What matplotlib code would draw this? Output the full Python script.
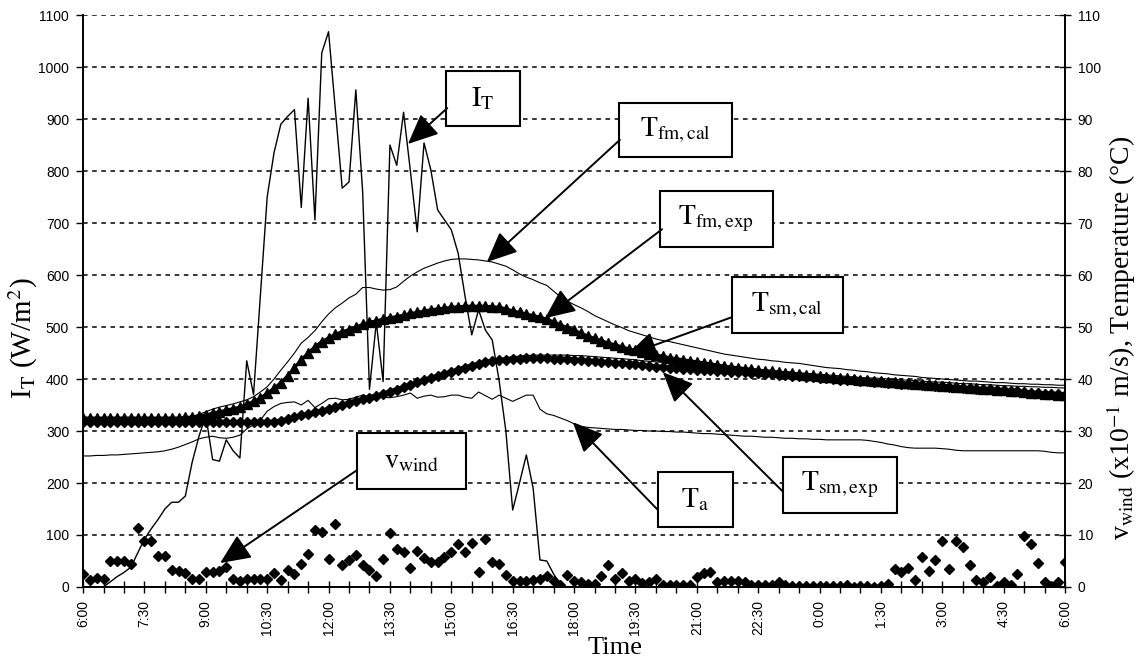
import numpy as np
import matplotlib
matplotlib.use("Agg")
import matplotlib.pyplot as plt
from matplotlib.patches import Rectangle

plt.rcParams['font.family'] = ['Liberation Sans', 'DejaVu Sans']
plt.rcParams['mathtext.fontset'] = 'stix'

# 10-minute samples from 6:00 to 6:00 next day (145 values), rows of 2 h
steps = np.arange(145)
hours = steps / 6.0

irradiance = [  # I_T, W/m2
    0, 0, 0, 0, 10, 20, 28, 38, 65, 92, 112, 130,
    150, 163, 163, 175, 240, 290, 330, 245, 242, 283, 262, 248,
    435, 370, 560, 750, 835, 890, 905, 918, 730, 940, 706, 1027,
    1068, 917, 767, 779, 956, 760, 380, 509, 395, 850, 811, 913,
    800, 683, 854, 802, 725, 706, 687, 642, 560, 485, 533, 494,
    475, 398, 300, 148, 200, 254, 190, 52, 50, 25, 5, 0,
] + [0] * 73

t_ambient = [
    25.2, 25.2, 25.3, 25.3, 25.4, 25.4, 25.5, 25.6, 25.7, 25.8, 25.9, 26.0,
    26.2, 26.5, 26.9, 27.4, 27.9, 28.5, 28.8, 29.0, 28.7, 28.6, 28.8, 29.2,
    30.4, 31.2, 32.1, 33.8, 34.7, 35.3, 35.5, 35.6, 35.0, 35.9, 34.5, 35.3,
    36.2, 36.3, 36.0, 36.1, 36.5, 36.9, 36.6, 36.3, 36.5, 36.4, 36.6, 36.9,
    37.3, 36.3, 36.7, 36.9, 36.5, 36.6, 36.9, 36.9, 36.5, 36.3, 37.5, 36.8,
    36.1, 36.9, 36.3, 35.7, 36.3, 36.9, 36.9, 34.2, 33.3, 33.0, 32.5, 32.0,
    31.4, 30.9, 30.7, 30.6, 30.5, 30.4, 30.3, 30.3, 30.2, 30.1, 30.1, 30.0,
    30.0, 29.9, 29.9, 29.8, 29.8, 29.7, 29.6, 29.5, 29.5, 29.4, 29.3, 29.2,
    29.1, 29.0, 29.0, 28.9, 28.8, 28.8, 28.7, 28.6, 28.6, 28.5, 28.5, 28.4,
    28.4, 28.3, 28.3, 28.3, 28.3, 28.3, 28.3, 28.2, 28.0, 27.8, 27.5, 27.3,
    27.0, 26.8, 26.7, 26.7, 26.7, 26.7, 26.6, 26.5, 26.3, 26.2, 26.2, 26.2,
    26.2, 26.2, 26.2, 26.2, 26.2, 26.2, 26.2, 26.2, 26.2, 26.1, 25.9, 25.8,
    25.8,
]

t_fm_cal = [
    31.9, 31.9, 31.9, 31.9, 31.9, 31.9, 31.9, 31.9, 31.9, 31.9, 32.0, 32.0,
    32.1, 32.2, 32.3, 32.5, 32.8, 33.2, 33.7, 34.2, 34.6, 34.9, 35.2, 35.6,
    36.0, 36.6, 37.5, 38.5, 40.0, 41.7, 43.3, 45.0, 46.9, 48.0, 49.3, 51.0,
    52.5, 53.7, 54.6, 55.6, 56.3, 57.6, 57.6, 57.3, 57.1, 57.2, 57.7, 58.8,
    59.8, 60.6, 61.3, 61.8, 62.3, 62.7, 63.0, 63.1, 63.1, 63.0, 62.9, 62.7,
    62.5, 62.1, 61.7, 61.0, 60.2, 59.6, 59.1, 58.5, 58.0, 56.9, 55.8, 55.0,
    54.3, 53.7, 53.0, 52.2, 51.6, 51.0, 50.4, 49.9, 49.3, 48.9, 48.5, 48.1,
    47.7, 47.4, 47.2, 46.9, 46.6, 46.3, 46.0, 45.7, 45.4, 45.1, 44.8, 44.6,
    44.4, 44.2, 44.0, 43.8, 43.7, 43.5, 43.4, 43.2, 43.1, 43.0, 42.8, 42.6,
    42.4, 42.2, 42.1, 42.0, 41.8, 41.7, 41.5, 41.4, 41.2, 41.1, 41.0, 40.8,
    40.7, 40.6, 40.5, 40.3, 40.2, 40.1, 40.0, 39.9, 39.8, 39.7, 39.6, 39.6,
    39.5, 39.4, 39.3, 39.3, 39.2, 39.1, 39.1, 39.0, 39.0, 38.9, 38.9, 38.8,
    38.8,
]

t_fm_exp = [
    32.5, 32.5, 32.5, 32.5, 32.5, 32.5, 32.5, 32.5, 32.5, 32.5, 32.5, 32.5,
    32.5, 32.5, 32.5, 32.6, 32.7, 32.9, 33.1, 33.4, 33.7, 34.0, 34.3, 34.6,
    35.1, 35.7, 36.3, 37.3, 38.2, 39.3, 40.6, 42.2, 43.7, 45.0, 46.2, 47.2,
    47.9, 48.6, 49.1, 49.5, 50.0, 50.5, 50.9, 51.2, 51.5, 51.8, 52.0, 52.3,
    52.6, 52.8, 53.1, 53.3, 53.5, 53.6, 53.8, 53.9, 54.0, 54.0, 54.0, 54.0,
    53.9, 53.8, 53.5, 53.1, 52.8, 52.5, 52.2, 51.9, 51.5, 51.0, 50.4, 49.9,
    49.4, 48.8, 48.3, 47.8, 47.4, 46.9, 46.6, 46.2, 45.8, 45.5, 45.2, 44.9,
    44.6, 44.4, 44.1, 43.9, 43.7, 43.5, 43.3, 43.1, 42.9, 42.7, 42.5, 42.3,
    42.2, 42.0, 41.9, 41.7, 41.6, 41.5, 41.3, 41.2, 41.1, 40.9, 40.8, 40.7,
    40.6, 40.4, 40.3, 40.2, 40.1, 40.0, 39.9, 39.8, 39.7, 39.6, 39.5, 39.4,
    39.3, 39.2, 39.1, 39.0, 38.9, 38.8, 38.7, 38.6, 38.5, 38.4, 38.3, 38.2,
    38.1, 38.0, 37.9, 37.8, 37.7, 37.6, 37.5, 37.4, 37.3, 37.2, 37.1, 37.0,
    36.9,
]

t_sm_exp = [
    31.7, 31.7, 31.7, 31.7, 31.7, 31.7, 31.7, 31.7, 31.7, 31.7, 31.7, 31.7,
    31.7, 31.7, 31.7, 31.7, 31.7, 31.7, 31.7, 31.7, 31.7, 31.7, 31.7, 31.7,
    31.7, 31.7, 31.7, 31.7, 31.8, 32.0, 32.3, 32.6, 33.0, 33.3, 33.6, 33.9,
    34.2, 34.6, 35.0, 35.4, 35.8, 36.1, 36.4, 36.7, 37.1, 37.5, 37.9, 38.4,
    38.9, 39.4, 39.8, 40.2, 40.6, 41.0, 41.4, 41.8, 42.2, 42.5, 42.9, 43.2,
    43.4, 43.6, 43.7, 43.8, 43.9, 44.0, 44.0, 44.0, 44.0, 43.9, 43.9, 43.8,
    43.7, 43.6, 43.5, 43.4, 43.3, 43.2, 43.1, 43.0, 42.9, 42.8, 42.6, 42.5,
    42.4, 42.3, 42.2, 42.1, 42.0, 41.9, 41.8, 41.8, 41.7, 41.6, 41.5, 41.4,
    41.3, 41.3, 41.2, 41.1, 41.0, 40.9, 40.8, 40.7, 40.6, 40.5, 40.4, 40.3,
    40.2, 40.1, 40.0, 39.9, 39.9, 39.8, 39.7, 39.6, 39.5, 39.4, 39.3, 39.2,
    39.1, 39.0, 39.0, 38.9, 38.8, 38.7, 38.6, 38.5, 38.4, 38.3, 38.2, 38.1,
    38.1, 38.0, 37.9, 37.8, 37.7, 37.6, 37.5, 37.4, 37.3, 37.2, 37.2, 37.1,
    37.0,
]

t_sm_cal = [
    31.9, 31.9, 31.9, 31.9, 31.9, 31.9, 31.9, 31.9, 31.9, 31.9, 31.9, 31.9,
    31.9, 31.9, 31.9, 31.9, 31.9, 31.9, 31.9, 31.9, 31.9, 31.9, 31.9, 31.9,
    31.9, 31.9, 31.9, 31.9, 32.0, 32.2, 32.5, 32.8, 33.2, 33.5, 33.9, 34.2,
    34.5, 34.9, 35.3, 35.7, 36.1, 36.4, 36.8, 37.1, 37.5, 37.9, 38.3, 38.8,
    39.2, 39.7, 40.1, 40.5, 40.9, 41.3, 41.7, 42.1, 42.5, 42.9, 43.2, 43.5,
    43.7, 43.9, 44.1, 44.3, 44.4, 44.5, 44.6, 44.6, 44.6, 44.6, 44.6, 44.6,
    44.5, 44.5, 44.4, 44.3, 44.2, 44.1, 44.0, 43.9, 43.8, 43.7, 43.5, 43.4,
    43.3, 43.2, 43.1, 43.0, 42.9, 42.8, 42.7, 42.6, 42.5, 42.4, 42.3, 42.2,
    42.1, 42.0, 41.9, 41.8, 41.7, 41.6, 41.5, 41.4, 41.3, 41.2, 41.1, 41.0,
    40.9, 40.8, 40.7, 40.6, 40.5, 40.4, 40.3, 40.2, 40.2, 40.1, 40.0, 39.9,
    39.8, 39.8, 39.7, 39.6, 39.5, 39.4, 39.4, 39.3, 39.2, 39.1, 39.1, 39.0,
    38.9, 38.9, 38.8, 38.7, 38.7, 38.6, 38.6, 38.5, 38.5, 38.4, 38.4, 38.3,
    38.3,
]

v_wind = [  # x10^-1 m/s
    2.5, 1.3, 1.7, 1.5, 5.0, 5.0, 5.0, 4.4, 11.4, 8.9, 8.9, 6.0,
    6.0, 3.3, 3.0, 2.7, 1.5, 1.5, 2.9, 2.9, 3.0, 3.9, 1.5, 1.2,
    1.5, 1.5, 1.5, 1.5, 2.7, 1.3, 3.3, 2.5, 4.4, 6.3, 11.0, 10.5,
    5.4, 12.1, 4.2, 5.2, 6.2, 4.2, 3.3, 2.1, 5.4, 10.4, 7.3, 6.7,
    3.7, 6.9, 5.6, 4.8, 4.8, 5.8, 6.7, 8.3, 6.7, 8.5, 2.9, 9.2,
    4.8, 4.4, 2.3, 1.2, 1.2, 1.2, 1.3, 1.5, 2.1, 1.2, 0.4, 2.3,
    1.2, 1.0, 0.6, 0.6, 2.1, 4.2, 1.5, 2.7, 1.2, 1.5, 0.8, 1.0,
    1.5, 0.4, 0.3, 0.4, 0.3, 0.4, 1.9, 2.7, 2.9, 0.9, 1.1, 1.1,
    1.1, 1.0, 0.4, 0.4, 0.3, 0.4, 1.0, 0.4, 0.2, 0.2, 0.2, 0.2,
    0.2, 0.2, 0.1, 0.2, 0.3, 0.0, 0.2, 0.2, 0.0, 0.2, 0.6, 3.5,
    2.9, 3.6, 1.3, 5.8, 3.1, 5.2, 8.8, 3.5, 8.8, 7.7, 4.2, 1.3,
    1.0, 1.9, 0.2, 1.0, 0.3, 2.5, 9.8, 8.3, 4.6, 1.0, 0.1, 1.0,
    4.8,
]

tick_labels = ['6:00', '7:30', '9:00', '10:30', '12:00', '13:30', '15:00',
               '16:30', '18:00', '19:30', '21:00', '22:30', '0:00', '1:30',
               '3:00', '4:30', '6:00']

fig = plt.figure(figsize=(11.44, 6.65), dpi=100)
ax1 = fig.add_axes([0.0726, 0.1173, 0.8584, 0.8601])
ax2 = ax1.twinx()

ax1.set_xlim(0, 24)
ax1.set_ylim(0, 1100)
ax2.set_ylim(0, 110)

ax1.set_yticks(range(0, 1101, 100))
ax2.set_yticks(range(0, 111, 10))
ax1.set_xticks(np.arange(0, 24.01, 1.5))
ax1.set_xticklabels(tick_labels, rotation=90)
ax1.set_xticks(np.arange(0, 24.01, 0.5), minor=True)

ax1.grid(axis='y', color='black', linestyle=(0, (3, 3)), linewidth=1.1)
ax1.set_axisbelow(True)

for ax in (ax1, ax2):
    ax.spines['top'].set_visible(False)
    for s in ('left', 'right', 'bottom'):
        ax.spines[s].set_linewidth(1.2)

ax1.tick_params(axis='x', which='both', direction='inout', length=9,
                width=1, labelsize=10, pad=5)
ax1.tick_params(axis='y', direction='out', length=5, width=1,
                labelsize=10, pad=5)
ax2.tick_params(axis='y', direction='inout', length=8, width=1,
                labelsize=10, pad=5)

# series
ax1.plot(hours, irradiance, color='black', lw=1.0)
ax2.plot(hours, t_ambient, color='black', lw=0.8)
ax2.plot(hours, t_fm_cal, color='black', lw=0.8)
ax2.plot(hours, t_fm_exp, color='black', lw=2.2, marker='^', ms=7)
ax2.plot(hours, t_sm_exp, color='black', lw=3.0, marker='D', ms=5)
ax2.plot(hours, t_sm_cal, color='black', lw=0.8)
ax2.plot(hours, v_wind, linestyle='none', color='black', marker='D', ms=5)


def label_box(text, x0, x1, y0, y1, start, tip):
    ax2.add_patch(Rectangle((x0, y0), x1 - x0, y1 - y0, facecolor='white',
                            edgecolor='black', lw=1.5, zorder=8))
    ax2.text((x0 + x1) / 2, (y0 + y1) / 2, text, ha='center', va='center',
             fontsize=20, zorder=9)
    ax2.annotate('', xy=tip, xytext=start, zorder=10,
                 arrowprops=dict(arrowstyle='-|>,head_length=0.85,head_width=0.38',
                                 mutation_scale=22, lw=1.4, color='black',
                                 shrinkA=0, shrinkB=0))


label_box(r'$\mathrm{I_T}$', 8.87, 10.68, 88.7, 99.2, (8.9, 92.1), (7.94, 85.2))
label_box(r'$\mathrm{T_{fm,cal}}$', 13.10, 15.86, 82.7, 93.1, (13.12, 86.0), (9.87, 62.5))
label_box(r'$\mathrm{T_{fm,exp}}$', 14.10, 16.86, 65.4, 76.2, (14.15, 68.8), (11.29, 51.7))
label_box(r'$\mathrm{T_{sm,cal}}$', 15.86, 18.57, 48.8, 59.6, (15.86, 51.9), (13.29, 44.6))
label_box(r'$\mathrm{T_{sm,exp}}$', 17.11, 19.89, 14.2, 25.0, (17.11, 18.3), (14.17, 41.3))
label_box(r'$\mathrm{T_a}$', 14.05, 15.88, 11.5, 22.1, (14.05, 14.8), (11.97, 31.7))
label_box(r'$\mathrm{v_{wind}}$', 6.70, 9.36, 18.8, 29.6, (6.70, 22.5), (3.35, 4.6))

serif = ['Liberation Serif', 'DejaVu Serif']
fig.text(615 / 1144, 1 - 648 / 665, 'Time', family=serif, fontsize=19,
         ha='center', va='center')
fig.text(23 / 1144, 1 - 338 / 665, r'I$_\mathrm{T}$ (W/m$^2$)', family=serif,
         fontsize=21, rotation=90, ha='center', va='center')
fig.text(1121 / 1144, 1 - 338 / 665,
         r'v$_\mathrm{wind}$ (x10$^{\mathrm{-1}}$ m/s), Temperature (°C)',
         family=serif, fontsize=20, rotation=90, ha='center', va='center')

fig.savefig('out.png', dpi=100)
